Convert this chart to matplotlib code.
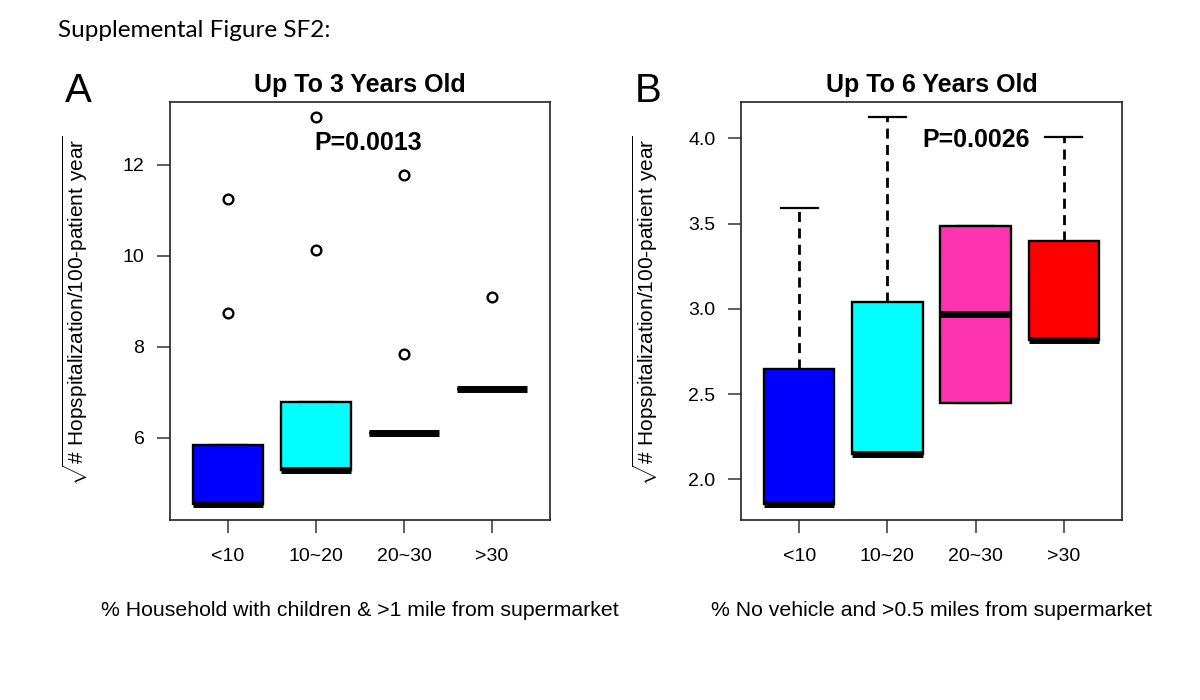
import numpy as np
import matplotlib
matplotlib.use("Agg")
import matplotlib.pyplot as plt

plt.rcParams['font.family'] = ['Liberation Sans', 'DejaVu Sans']
plt.rcParams['mathtext.fontset'] = 'custom'
plt.rcParams['mathtext.rm'] = 'Liberation Sans'

categories = ['<10', '10~20', '20~30', '>30']
colors = ['#0000FF', '#00FFFF', '#FF34B3', '#FF0000']

# panel A: up to 3 years old (box stats)
a_q1 = [4.55, 5.30, 6.10, 7.07]
a_med = [4.55, 5.30, 6.10, 7.07]
a_q3 = [5.84, 6.78, 6.10, 7.07]
a_whislo = [4.55, 5.30, 6.10, 7.07]
a_whishi = [5.84, 6.78, 6.10, 7.07]
a_fliers = [[11.25, 8.74], [13.06, 10.13], [11.77, 7.84], [9.10]]

# panel B: up to 6 years old
b_q1 = [1.857, 2.146, 2.445, 2.815]
b_med = [1.857, 2.146, 2.967, 2.815]
b_q3 = [2.646, 3.037, 3.486, 3.40]
b_whislo = [1.857, 2.146, 2.445, 2.815]
b_whishi = [3.59, 4.127, 3.486, 4.006]
b_fliers = [[], [], [], []]

ylabel = r'$\sqrt{\mathrm{\#\ Hopspitalization/100\text{-}patient\ year}}$'


def make_stats(q1, med, q3, lo, hi, fl):
    out = []
    for i in range(len(q1)):
        out.append(dict(q1=q1[i], med=med[i], q3=q3[i], whislo=lo[i],
                        whishi=hi[i], fliers=fl[i], label=categories[i]))
    return out


def draw_panel(ax, stats, title, xlab, ylim, yticks, ptext, pxy):
    bp = ax.bxp(stats, positions=[1, 2, 3, 4], widths=0.8, capwidths=0.42,
                patch_artist=True, showfliers=True,
                boxprops=dict(edgecolor='black', linewidth=1.7, zorder=2),
                medianprops=dict(color='black', linewidth=5.0, solid_capstyle='butt', zorder=3),
                whiskerprops=dict(color='black', linewidth=2.0, linestyle=(0, (3.6, 2.3)), zorder=1.5),
                capprops=dict(color='black', linewidth=1.6, zorder=1.5),
                flierprops=dict(marker='o', markerfacecolor='none',
                                markeredgecolor='black', markersize=7,
                                markeredgewidth=1.7))
    for patch, c in zip(bp['boxes'], colors):
        patch.set_facecolor(c)
    ax.set_xlim(0.34, 4.66)
    ax.set_ylim(*ylim)
    ax.set_yticks(yticks)
    ax.set_xticks([1, 2, 3, 4])
    ax.set_xticklabels(categories)
    ax.tick_params(axis='both', labelsize=14, length=9.4, width=1.1,
                   color='#333333', direction='out')
    ax.tick_params(axis='x', pad=11)
    ax.tick_params(axis='y', pad=9)
    for s in ax.spines.values():
        s.set_linewidth(1.2)
        s.set_color('#222222')
    ax.set_title(title, fontsize=18, fontweight='bold', pad=6.8)
    ax.set_xlabel(xlab, fontsize=15.3, va='center')
    ax.xaxis.set_label_coords(0.5, -(610 - 520) / 418.3)
    ax.set_ylabel(ylabel, fontsize=15, va='center')
    ax.yaxis.set_label_coords(-(170 - 75) / 380, 0.5)
    ax.text(pxy[0], pxy[1], ptext, fontsize=18, fontweight='bold',
            ha='center', va='center')


fig = plt.figure(figsize=(12, 7), dpi=100)
axA = fig.add_axes([170 / 1200, 1 - 520 / 700, 380 / 1200, 418.3 / 700])
axB = fig.add_axes([741 / 1200, 1 - 520 / 700, 381 / 1200, 418.3 / 700])

draw_panel(axA, make_stats(a_q1, a_med, a_q3, a_whislo, a_whishi, a_fliers),
           'Up To 3 Years Old',
           '% Household with children & >1 mile from supermarket',
           (4.19, 13.39), [6, 8, 10, 12], 'P=0.0013', (2.59, 12.49))
draw_panel(axB, make_stats(b_q1, b_med, b_q3, b_whislo, b_whishi, b_fliers),
           'Up To 6 Years Old',
           '% No vehicle and >0.5 miles from supermarket',
           (1.761, 4.215), [2.0, 2.5, 3.0, 3.5, 4.0], 'P=0.0026', (3.01, 3.99))
axB.set_yticklabels(['2.0', '2.5', '3.0', '3.5', '4.0'])

fig.text(65 / 1200, 1 - 101.7 / 700, 'A', fontsize=29, va='baseline', ha='left')
fig.text(635 / 1200, 1 - 101.7 / 700, 'B', fontsize=29, va='baseline', ha='left')
fig.text(58 / 1200, 1 - 36.7 / 700, 'Supplemental Figure SF2:', fontsize=17.5,
         family='Lato', va='baseline', ha='left')

fig.savefig('out.png', dpi=100)
